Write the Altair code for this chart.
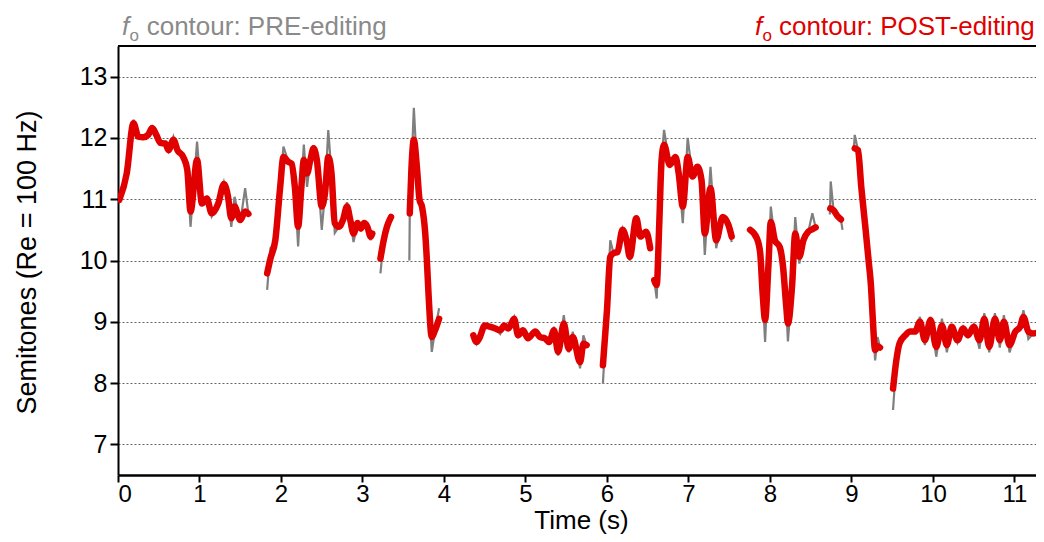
import altair as alt
import pandas as pd

# ---------------- data ----------------
# POST-editing f0 contour, one list per voiced segment (time s, semitones)
post_t = [
    [0.016, 0.107, 0.19, 0.25, 0.31, 0.37, 0.42, 0.47, 0.52, 0.58, 0.62, 0.68, 0.73, 0.80, 0.85, 0.89, 0.97, 1.03, 1.09, 1.15, 1.23, 1.30, 1.35, 1.39, 1.43, 1.50, 1.56, 1.60],
    [1.83, 1.87, 1.93, 1.99, 2.03, 2.09, 2.13, 2.17, 2.21, 2.25, 2.28, 2.32, 2.36, 2.40, 2.44, 2.50, 2.54, 2.58, 2.62, 2.66, 2.71, 2.76, 2.81, 2.85, 2.89, 2.94, 2.98, 3.02, 3.06, 3.10, 3.12],
    [3.22, 3.26, 3.30, 3.35],
    [3.58, 3.60, 3.63, 3.67, 3.70, 3.73, 3.77, 3.79, 3.81, 3.85, 3.89, 3.94],
    [4.36, 4.40, 4.44, 4.50, 4.56, 4.63, 4.69, 4.74, 4.79, 4.86, 4.91, 4.97, 5.03, 5.12, 5.18, 5.24, 5.29, 5.35, 5.40, 5.47, 5.53, 5.58, 5.67, 5.71, 5.75],
    [5.95, 6.00, 6.04, 6.08, 6.13, 6.19, 6.24, 6.28, 6.36, 6.41, 6.48, 6.53],
    [6.58, 6.61, 6.64, 6.67, 6.70, 6.77, 6.84, 6.88, 6.93, 6.99, 7.05, 7.11, 7.16, 7.20, 7.27, 7.34, 7.42, 7.49, 7.53],
    [7.755, 7.84, 7.88, 7.91, 7.94, 7.98, 8.01, 8.06, 8.12, 8.16, 8.20, 8.22, 8.27, 8.31, 8.36, 8.41, 8.47, 8.52, 8.56],
    [8.74, 8.78, 8.82, 8.87],
    [9.04, 9.08, 9.12, 9.17, 9.21, 9.24, 9.26, 9.29, 9.32, 9.35],
    [9.51, 9.55, 9.59, 9.66, 9.72, 9.78, 9.84, 9.90, 9.97, 10.04, 10.11, 10.17, 10.23, 10.30, 10.37, 10.43, 10.50, 10.57, 10.63, 10.69, 10.76, 10.82, 10.87, 10.94, 11.01, 11.07, 11.11, 11.17, 11.23, 11.29, 11.36],
]
post_v = [
    [10.99, 11.42, 12.24, 12.02, 12.01, 12.05, 12.16, 12.05, 11.92, 11.91, 11.80, 11.97, 11.80, 11.69, 11.48, 10.80, 11.64, 10.93, 11.01, 10.77, 10.93, 11.25, 11.04, 10.69, 10.88, 10.66, 10.80, 10.76],
    [9.79, 10.03, 10.33, 11.20, 11.69, 11.61, 11.58, 11.20, 10.55, 11.20, 11.64, 11.42, 11.64, 11.83, 11.64, 10.88, 11.10, 11.69, 11.42, 10.61, 10.55, 10.66, 10.88, 10.66, 10.44, 10.61, 10.52, 10.61, 10.55, 10.39, 10.44],
    [10.03, 10.33, 10.55, 10.71],
    [10.77, 11.48, 11.97, 11.48, 10.99, 10.88, 10.44, 10.00, 9.46, 8.75, 8.86, 9.05],
    [8.78, 8.67, 8.75, 8.94, 8.92, 8.89, 8.86, 8.94, 8.89, 9.05, 8.78, 8.86, 8.73, 8.84, 8.75, 8.73, 8.67, 8.86, 8.51, 8.97, 8.56, 8.75, 8.34, 8.64, 8.62],
    [8.29, 9.19, 10.06, 10.12, 10.14, 10.50, 10.33, 10.06, 10.69, 10.39, 10.47, 10.20],
    [9.68, 9.60, 10.55, 11.64, 11.89, 11.56, 11.69, 11.42, 10.88, 11.69, 11.37, 11.53, 11.31, 10.44, 11.18, 10.33, 10.71, 10.58, 10.39],
    [10.50, 10.36, 10.12, 9.46, 9.03, 9.90, 10.63, 10.33, 10.22, 9.90, 9.24, 8.97, 9.57, 10.44, 10.06, 10.33, 10.47, 10.51, 10.54],
    [10.85, 10.82, 10.74, 10.67],
    [11.83, 11.80, 11.20, 10.55, 10.00, 9.57, 9.08, 8.54, 8.60, 8.58],
    [7.91, 8.37, 8.65, 8.78, 8.84, 8.84, 9.00, 8.70, 9.03, 8.59, 8.94, 8.62, 8.92, 8.70, 8.89, 8.78, 8.92, 8.70, 9.05, 8.59, 9.05, 8.70, 9.00, 8.62, 8.84, 8.92, 9.08, 8.84, 8.81, 8.82, 8.80],
]

# PRE-editing f0 contour (raw, more jagged), one list per segment
pre_t = [
    [0.0, 0.107, 0.19, 0.25, 0.31, 0.37, 0.42, 0.47, 0.52, 0.58, 0.62, 0.68, 0.73, 0.80, 0.85, 0.89, 0.97, 1.03, 1.09, 1.15, 1.23, 1.30, 1.35, 1.39, 1.43, 1.50, 1.56, 1.60],
    [1.83, 1.87, 1.93, 1.99, 2.03, 2.09, 2.13, 2.17, 2.21, 2.25, 2.28, 2.32, 2.36, 2.40, 2.44, 2.50, 2.54, 2.58, 2.62, 2.66, 2.71, 2.76, 2.81, 2.85, 2.89, 2.94, 2.98, 3.02, 3.06, 3.10, 3.12],
    [3.22, 3.26, 3.30, 3.35],
    [3.575, 3.58, 3.60, 3.63, 3.67, 3.70, 3.73, 3.77, 3.79, 3.81, 3.85, 3.89, 3.94],
    [4.36, 4.40, 4.44, 4.50, 4.56, 4.63, 4.69, 4.74, 4.79, 4.86, 4.91, 4.97, 5.03, 5.12, 5.18, 5.24, 5.29, 5.35, 5.40, 5.47, 5.53, 5.58, 5.67, 5.71, 5.75],
    [5.95, 6.00, 6.04, 6.08, 6.13, 6.19, 6.24, 6.28, 6.36, 6.41, 6.48, 6.53],
    [6.58, 6.61, 6.64, 6.67, 6.70, 6.77, 6.84, 6.88, 6.93, 6.99, 7.05, 7.11, 7.16, 7.20, 7.27, 7.34, 7.42, 7.49, 7.53],
    [7.755, 7.84, 7.88, 7.91, 7.94, 7.98, 8.01, 8.06, 8.12, 8.16, 8.20, 8.22, 8.27, 8.31, 8.36, 8.41, 8.47, 8.52, 8.56],
    [8.735, 8.745, 8.78, 8.82, 8.87, 8.89],
    [9.03, 9.04, 9.08, 9.12, 9.17, 9.21, 9.24, 9.26, 9.29, 9.32, 9.35],
    [9.51, 9.55, 9.59, 9.66, 9.72, 9.78, 9.84, 9.90, 9.97, 10.04, 10.11, 10.17, 10.23, 10.30, 10.37, 10.43, 10.50, 10.57, 10.63, 10.69, 10.76, 10.82, 10.87, 10.94, 11.01, 11.07, 11.11, 11.17, 11.23, 11.29, 11.36],
]
pre_v = [
    [10.95, 11.42, 12.30, 12.02, 12.01, 12.05, 12.18, 12.05, 11.92, 11.91, 11.78, 12.02, 11.80, 11.69, 11.48, 10.55, 11.94, 10.93, 11.03, 10.72, 10.93, 11.28, 11.04, 10.55, 11.04, 10.62, 11.18, 10.76],
    [9.52, 10.20, 10.33, 11.20, 11.86, 11.61, 11.58, 11.20, 10.23, 11.20, 11.89, 11.20, 11.64, 11.88, 11.64, 10.50, 11.10, 12.13, 11.42, 10.45, 10.55, 10.66, 10.95, 10.66, 10.30, 10.61, 10.52, 10.63, 10.55, 10.33, 10.44],
    [9.79, 10.33, 10.55, 10.75],
    [10.00, 10.77, 11.48, 12.49, 11.48, 10.99, 10.88, 10.44, 10.00, 9.46, 8.51, 8.86, 9.22],
    [8.78, 8.64, 8.75, 8.94, 8.92, 8.89, 8.80, 8.96, 8.89, 9.08, 8.76, 8.86, 8.72, 8.84, 8.75, 8.73, 8.65, 8.92, 8.45, 9.11, 8.50, 8.84, 8.24, 8.78, 8.62],
    [7.99, 9.19, 10.33, 10.12, 10.14, 10.52, 10.33, 10.00, 10.72, 10.39, 10.47, 10.20],
    [9.68, 9.38, 10.55, 11.64, 12.13, 11.56, 11.69, 11.42, 10.61, 12.00, 11.37, 11.53, 11.31, 10.09, 11.53, 10.20, 10.71, 10.58, 10.30],
    [10.55, 10.36, 10.12, 9.46, 8.67, 9.90, 10.88, 10.33, 10.22, 9.90, 9.24, 8.68, 9.57, 10.71, 9.95, 10.33, 10.47, 10.77, 10.54],
    [10.75, 11.29, 10.82, 10.74, 10.67, 10.50],
    [11.85, 12.05, 11.80, 11.20, 10.55, 10.00, 9.57, 9.08, 8.37, 8.75, 8.58],
    [7.56, 8.37, 8.65, 8.78, 8.84, 8.84, 9.08, 8.62, 9.08, 8.43, 9.05, 8.50, 8.95, 8.66, 8.92, 8.76, 8.95, 8.56, 9.14, 8.50, 9.14, 8.58, 9.11, 8.50, 8.84, 8.92, 9.19, 8.72, 8.81, 8.82, 8.80],
]

x_ticks = list(range(0, 12))
y_ticks = list(range(7, 14))
x_domain = [0, 11.264]
y_domain = [6.5, 13.5]

# ---------------- build long table ----------------
rows = []
for i, (ts, vs) in enumerate(zip(pre_t, pre_v)):
    for t, v in zip(ts, vs):
        rows.append({"t": t, "v": v, "seg": i, "series": "PRE"})
for i, (ts, vs) in enumerate(zip(post_t, post_v)):
    for t, v in zip(ts, vs):
        rows.append({"t": t, "v": v, "seg": i, "series": "POST"})
df = pd.DataFrame(rows)

W, H = 918, 429
GRAY = "#7f7f7f"
RED = "#e00000"
FONT = "Liberation Sans"

xenc = alt.X("t:Q", scale=alt.Scale(domain=x_domain, nice=False, zero=False),
             axis=alt.Axis(values=x_ticks, format="d", title="Time (s)", grid=False, tickSize=7,
                           labelPadding=0, labelFontSize=24, domainWidth=2.5, tickWidth=2,
                           titleBaseline="alphabetic", titleX=463, titleY=53))
yenc = alt.Y("v:Q", scale=alt.Scale(domain=y_domain, nice=False, zero=False),
             axis=alt.Axis(values=y_ticks, format="d", title="Semitones (Re = 100 Hz)", grid=True,
                           gridDash=[2, 2], gridColor="#666666", gridWidth=1,
                           tickSize=8, labelPadding=3, domainWidth=2, tickWidth=2,
                           titleFontSize=27, titleX=-77, titleY=216))

pre_line = alt.Chart(df).transform_filter(alt.datum.series == "PRE").mark_line(
    color=GRAY, strokeWidth=2.2, clip=True
).encode(x=xenc, y=yenc, detail="seg:N", order="t:Q")

post_line = alt.Chart(df).transform_filter(alt.datum.series == "POST").mark_line(
    color=RED, strokeWidth=6.5, strokeCap="round", strokeJoin="round",
    interpolate="monotone", clip=True
).encode(x="t:Q", y="v:Q", detail="seg:N", order="t:Q")

one = alt.Data(values=[{}])
frame_top = alt.Chart(one).mark_rule(color="black", strokeWidth=2).encode(
    x=alt.value(0), x2=alt.value(W), y=alt.value(0))


def label(txt, px, py, size, color, italic=False):
    return alt.Chart(one).mark_text(
        text=txt, font=FONT, fontSize=size, color=color, align="left",
        baseline="alphabetic", fontStyle="italic" if italic else "normal"
    ).encode(x=alt.value(px), y=alt.value(py))


TGRAY = "#8a8a8a"
titles = [
    label("f", 4, -11, 26, TGRAY, True),
    label("o", 11.5, -5, 17, TGRAY),
    label("contour: PRE-editing", 28.7, -11, 26, TGRAY),
    label("f", 637, -11, 26, RED, True),
    label("o", 644.5, -5, 17, RED),
    label("contour: POST-editing", 661, -11, 26, RED),
]

chart = alt.layer(pre_line, post_line, frame_top, *titles).properties(
    width=W, height=H,
    autosize=alt.AutoSizeParams(type="none"),
    padding={"left": 110, "top": 38, "right": 0, "bottom": 59},
).configure_view(stroke=None).configure_axis(
    labelFont=FONT, labelFontSize=25, labelColor="black",
    titleFont=FONT, titleFontSize=26, titleFontWeight="normal", titleColor="black",
    domainColor="black", tickColor="black",
)

chart.save("out.html", embed_options={"renderer": "svg", "actions": False})
